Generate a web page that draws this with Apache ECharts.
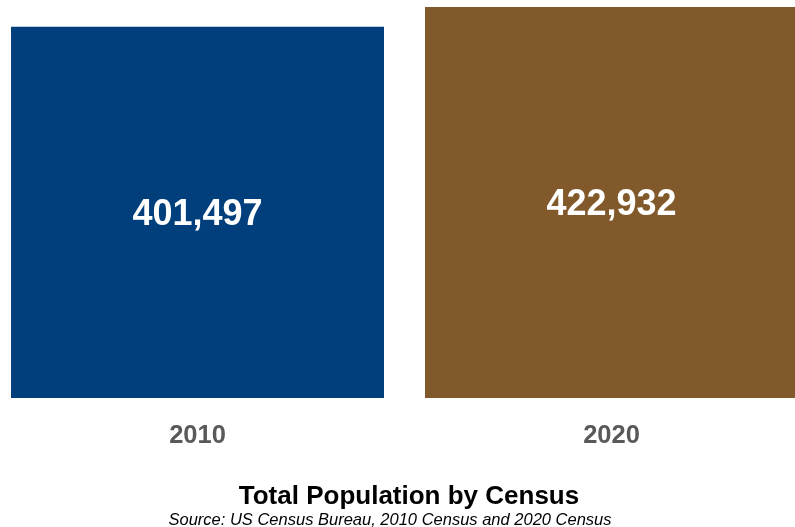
<!DOCTYPE html>
<html>
<head>
<meta charset="utf-8">
<style>
  html, body { margin: 0; padding: 0; background: #ffffff; }
  #chart { width: 795px; height: 527px; }
</style>
<script src="https://cdn.jsdelivr.net/npm/echarts@6/dist/echarts.min.js"></script>
</head>
<body>
<div id="chart"></div>
<script>
// Census years and total population counts
const years = ['2010', '2020'];
const population = [401497, 422932];
const barColors = ['#003f7b', '#82592a'];

const chart = echarts.init(document.getElementById('chart'), null, { renderer: 'canvas' });

chart.setOption({
  backgroundColor: '#ffffff',
  animation: false,
  title: [
    {
      text: 'Total Population by Census',
      left: 404, top: 479, textAlign: 'center',
      textStyle: { fontFamily: 'Liberation Sans, Arial, sans-serif', fontSize: 26, fontWeight: 'bold', color: '#000000' }
    },
    {
      text: 'Source: US Census Bureau, 2010 Census and 2020 Census',
      left: 385, top: 507, textAlign: 'center',
      textStyle: { fontFamily: 'Liberation Sans, Arial, sans-serif', fontSize: 16.5, fontStyle: 'italic', fontWeight: 'normal', color: '#000000' }
    }
  ],
  grid: { left: -9.5, right: -23.5, top: 7, bottom: 129, outerBoundsMode: 'none', containLabel: false },
  xAxis: {
    type: 'category',
    data: years,
    axisLine: { show: false },
    axisTick: { show: false },
    axisLabel: {
      margin: 25,
      fontFamily: 'Liberation Sans, Arial, sans-serif',
      fontSize: 25.5, fontWeight: 'bold', color: '#595959'
    }
  },
  yAxis: {
    type: 'value',
    min: 0,
    max: 422932,
    show: false,
    splitLine: { show: false }
  },
  series: [{
    type: 'bar',
    barWidth: 373,
    data: population.map((v, i) => ({ value: v, itemStyle: { color: barColors[i] } })),
    label: {
      show: true,
      position: 'inside',
      offset: [0, 3],
      formatter: p => p.value.toLocaleString('en-US'),
      fontFamily: 'Liberation Sans, Arial, sans-serif',
      fontSize: 36, fontWeight: 'bold', color: '#ffffff'
    }
  }]
});
</script>
</body>
</html>
